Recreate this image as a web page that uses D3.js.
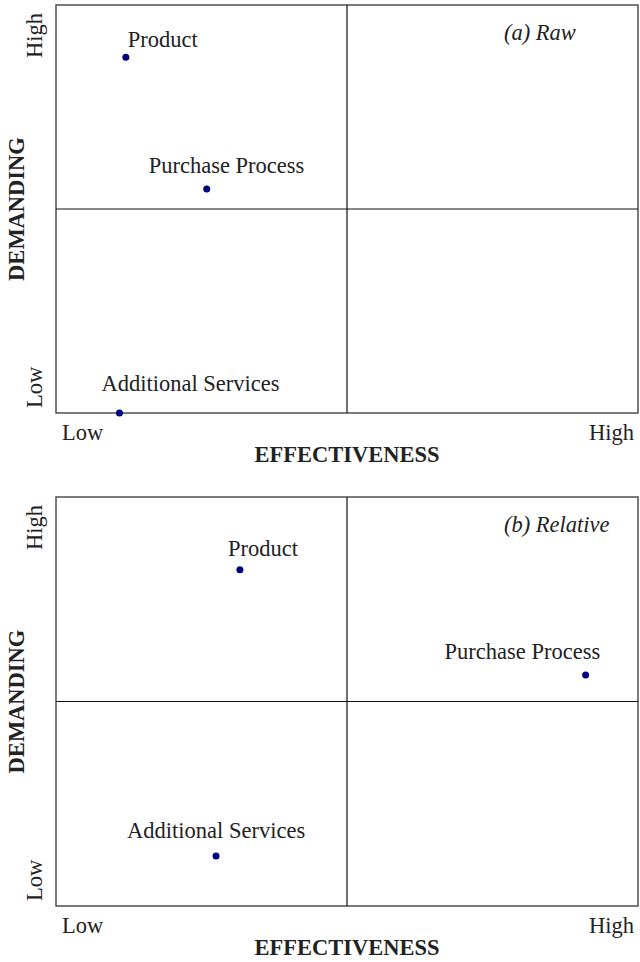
<!DOCTYPE html>
<html>
<head>
<meta charset="utf-8">
<script src="https://cdn.jsdelivr.net/npm/d3@7"></script>
<style>
  html, body { margin: 0; padding: 0; background: #fff; }
  svg { display: block; }
  text { font-family: "Liberation Serif", "Times New Roman", serif; fill: #222; }
</style>
</head>
<body>
<svg id="chart" width="640" height="962"></svg>
<script>
// ---- data ----
const categories = ["Product", "Purchase Process", "Additional Services"];
const rawEffectiveness = [12.0, 25.9, 10.9];
const rawDemanding = [87.2, 54.9, 0.0];
const relEffectiveness = [31.6, 91.0, 27.5];
const relDemanding = [82.2, 56.5, 12.2];
const tickLabels = ["Low", "High"];
const panelTitles = ["(a) Raw", "(b) Relative"];
const xAxisTitle = "EFFECTIVENESS";
const yAxisTitle = "DEMANDING";

// label offsets (layout only): [dx, dy] relative to point
const rawLabelOffsets = [[2, -10.6], [-58, -16], [-18, -22]];
const relLabelOffsets = [[-12, -14], [-141, -16], [-89, -18]];

const svg = d3.select("#chart");
const left = 56, right = 638;
const fontSize = 22.5;

function drawPanel(top, bottom, effs, dems, offsets, title) {
  const x = d3.scaleLinear().domain([0, 100]).range([left, right]);
  const y = d3.scaleLinear().domain([0, 100]).range([bottom, top]);
  const g = svg.append("g");

  // frame
  g.append("rect")
    .attr("x", x(0)).attr("y", y(100))
    .attr("width", x(100) - x(0)).attr("height", y(0) - y(100))
    .attr("fill", "none").attr("stroke", "#444").attr("stroke-width", 1.4);
  // quadrant lines
  g.append("line")
    .attr("x1", x(50)).attr("x2", x(50)).attr("y1", y(0)).attr("y2", y(100))
    .attr("stroke", "#111").attr("stroke-width", 1.2);
  g.append("line")
    .attr("x1", x(0)).attr("x2", x(100)).attr("y1", y(50)).attr("y2", y(50))
    .attr("stroke", "#111").attr("stroke-width", 1.2);

  // x tick labels
  g.append("text").attr("x", x(0) + 6).attr("y", bottom + 27)
    .attr("font-size", fontSize).text(tickLabels[0]);
  g.append("text").attr("x", x(100) - 4).attr("y", bottom + 27)
    .attr("text-anchor", "end").attr("font-size", fontSize).text(tickLabels[1]);
  // x axis title
  g.append("text").attr("x", x(50)).attr("y", bottom + 49)
    .attr("text-anchor", "middle").attr("font-size", fontSize)
    .attr("font-weight", "bold").text(xAxisTitle);

  // y tick labels (rotated)
  g.append("text")
    .attr("transform", `translate(42,${bottom - 5}) rotate(-90)`)
    .attr("font-size", fontSize).text(tickLabels[0]);
  g.append("text")
    .attr("transform", `translate(42,${top + 8}) rotate(-90)`)
    .attr("text-anchor", "end").attr("font-size", fontSize).text(tickLabels[1]);
  // y axis title
  g.append("text")
    .attr("transform", `translate(24,${y(50)}) rotate(-90)`)
    .attr("text-anchor", "middle").attr("font-size", fontSize)
    .attr("font-weight", "bold").text(yAxisTitle);

  // panel title
  g.append("text").attr("x", 504).attr("y", top + 35)
    .attr("font-size", fontSize).attr("font-style", "italic").text(title);

  const pts = categories.map((c, i) => ({ c, e: effs[i], d: dems[i], o: offsets[i] }));
  g.selectAll("circle.pt").data(pts).join("circle")
    .attr("class", "pt")
    .attr("cx", d => x(d.e)).attr("cy", d => y(d.d))
    .attr("r", 3.5).attr("fill", "#00007f");
  g.selectAll("text.lbl").data(pts).join("text")
    .attr("class", "lbl")
    .attr("x", d => x(d.e) + d.o[0]).attr("y", d => y(d.d) + d.o[1])
    .attr("font-size", fontSize).text(d => d.c);
}

drawPanel(5, 413, rawEffectiveness, rawDemanding, rawLabelOffsets, panelTitles[0]);
drawPanel(497, 906, relEffectiveness, relDemanding, relLabelOffsets, panelTitles[1]);
</script>
</body>
</html>
